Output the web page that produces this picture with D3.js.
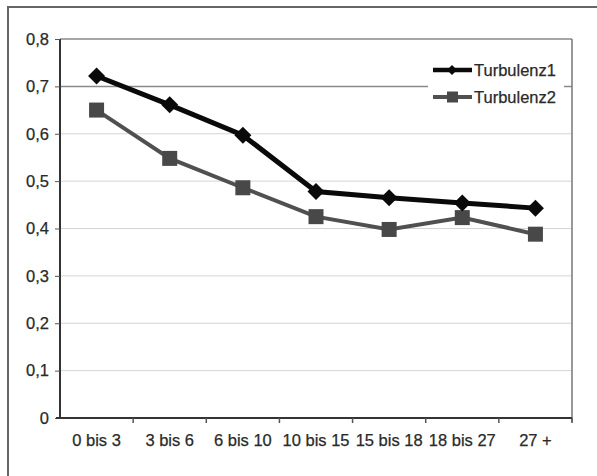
<!DOCTYPE html>
<html><head><meta charset="utf-8">
<script src="https://cdn.jsdelivr.net/npm/d3@7"></script>
<style>body{margin:0;background:#fff}svg{display:block}text{font-family:"Liberation Sans",Arial,sans-serif;fill:#2a2a2a}</style>
</head><body>
<svg id="c" width="597" height="476"></svg>
<script>
const categories = ["0 bis 3","3 bis 6","6 bis 10","10 bis 15","15 bis 18","18 bis 27","27 +"];
const turbulenz1 = [0.722,0.661,0.597,0.478,0.465,0.454,0.443];
const turbulenz2 = [0.650,0.548,0.486,0.425,0.398,0.423,0.388];
const yTicks = [0,0.1,0.2,0.3,0.4,0.5,0.6,0.7,0.8];
const seriesNames = ["Turbulenz1","Turbulenz2"];

const svg = d3.select("#c");
const m = {l:60, t:39, r:572, b:418};
const x = d3.scaleBand().domain(categories).range([m.l,m.r]);
const y = d3.scaleLinear().domain([0,0.8]).range([m.b,m.t]);
const fmt = d => d===0 ? "0" : d3.format(".1f")(d).replace(".",",");
const txtStyle = s => s.style("font-size","16.5px").attr("fill","#2a2a2a").attr("stroke","#2a2a2a").attr("stroke-width",0.25);

// outer frame (left + top visible)
svg.append("path").attr("d",`M8,476 V7 H597`).attr("fill","none").attr("stroke","#666").attr("stroke-width",2);

// gridlines
svg.append("g").selectAll("line").data(yTicks.filter(d=>d>0)).join("line")
  .attr("x1",m.l).attr("x2",m.r).attr("y1",d=>y(d)).attr("y2",d=>y(d))
  .attr("stroke",d=>d===0.7?"#8a8a8a":d===0.8?"#888":"#d4d4d4").attr("stroke-width",d=>d===0.7||d===0.8?1.5:1);
// right border
svg.append("line").attr("x1",m.r).attr("x2",m.r).attr("y1",m.t).attr("y2",m.b+4).attr("stroke","#777").attr("stroke-width",1.5);

// y axis
const ya = svg.append("g").attr("transform",`translate(${m.l},0)`)
  .call(d3.axisLeft(y).tickValues(yTicks).tickFormat(fmt).tickSize(5).tickPadding(6));
ya.select(".domain").attr("stroke","#333").attr("stroke-width",2).attr("d",`M0,${m.t}V${m.b}`);
ya.selectAll(".tick line").attr("stroke","#555");
ya.selectAll("text").call(txtStyle);

// x axis
const xa = svg.append("g").attr("transform",`translate(0,${m.b})`)
  .call(d3.axisBottom(x).tickSize(0).tickPadding(16));
xa.select(".domain").attr("stroke","#333").attr("stroke-width",2).attr("d",`M${m.l-4},0H${m.r}`);
xa.selectAll("text").call(txtStyle);
svg.append("g").selectAll("line").data(categories.slice(1).concat(["end"])).join("line")
  .attr("x1",(d,i)=>m.l+x.step()*(i+1)).attr("x2",(d,i)=>m.l+x.step()*(i+1))
  .attr("y1",m.b).attr("y2",m.b+5).attr("stroke","#555").attr("stroke-width",1.5);

const cx = d => x(d)+x.bandwidth()/2;
const line = d3.line().x((d,i)=>cx(categories[i])).y(d=>y(d));

// series 2
svg.append("path").datum(turbulenz2).attr("d",line).attr("fill","none").attr("stroke","#505050").attr("stroke-width",4);
svg.append("g").selectAll("rect").data(turbulenz2).join("rect")
  .attr("x",(d,i)=>cx(categories[i])-7.5).attr("y",d=>y(d)-7.5).attr("width",15).attr("height",15)
  .attr("fill","#484848");
// series 1
svg.append("path").datum(turbulenz1).attr("d",line).attr("fill","none").attr("stroke","#0a0a0a").attr("stroke-width",5);
const diamond = "M0,-8.5L8.5,0L0,8.5L-8.5,0Z";
svg.append("g").selectAll("path").data(turbulenz1).join("path")
  .attr("transform",(d,i)=>`translate(${cx(categories[i])},${y(d)})`).attr("d",diamond).attr("fill","#0a0a0a");

// legend
const lg = svg.append("g");
lg.append("rect").attr("x",428).attr("y",57).attr("width",136).attr("height",52).attr("fill","#fff");
const ly = [70,97];
seriesNames.forEach((n,i)=>{
  lg.append("line").attr("x1",433).attr("x2",472).attr("y1",ly[i]).attr("y2",ly[i])
    .attr("stroke",i===0?"#0a0a0a":"#505050").attr("stroke-width",i===0?4.5:4);
  if(i===0) lg.append("path").attr("transform",`translate(452,${ly[i]})`).attr("d","M0,-5L5,0L0,5L-5,0Z").attr("fill","#0a0a0a");
  else lg.append("rect").attr("x",447).attr("y",ly[i]-5.5).attr("width",11).attr("height",11).attr("fill","#484848");
  lg.append("text").attr("x",474).attr("y",ly[i]).attr("dy","0.36em").call(txtStyle).text(n);
});
</script>
</body></html>
